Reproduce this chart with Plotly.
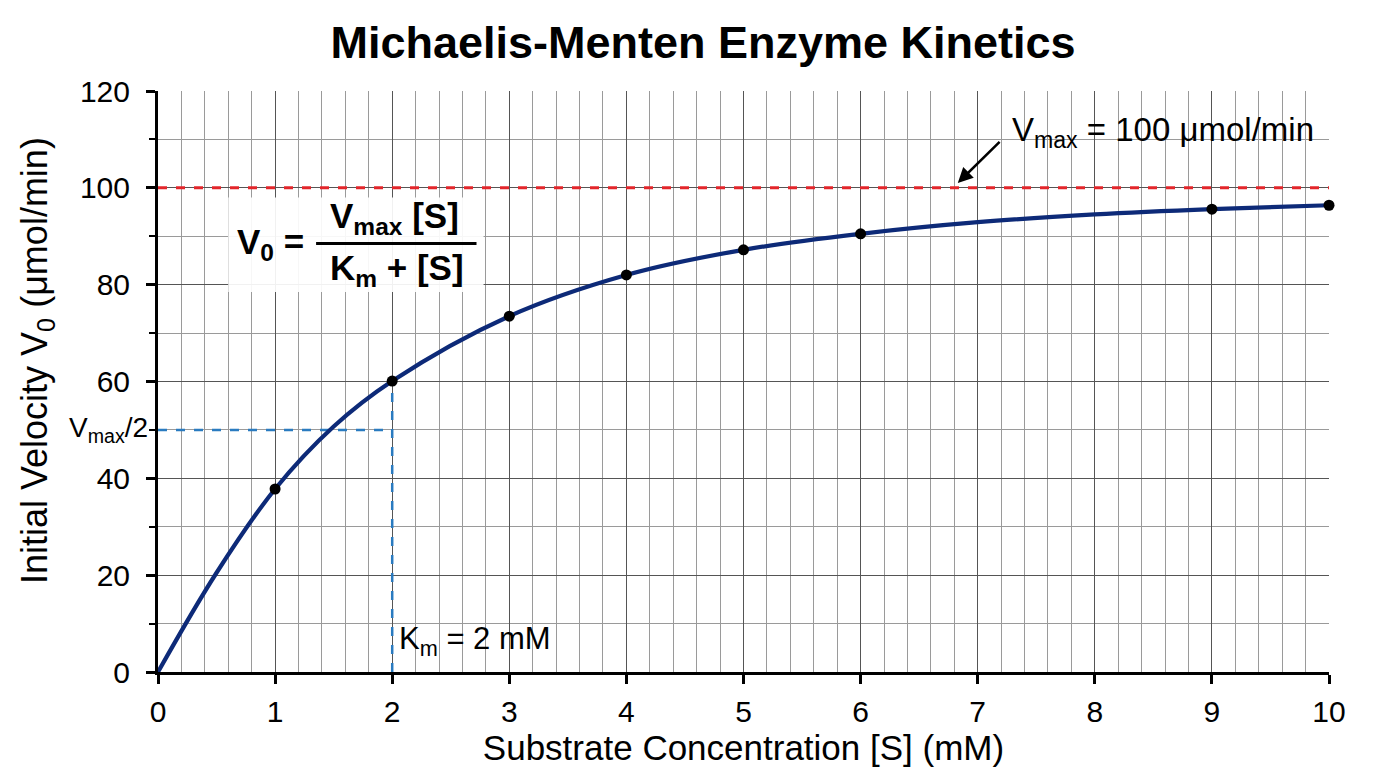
import plotly.graph_objects as go

# ---- data ----
S_points = [1, 2, 3, 4, 5, 6, 9, 10]
V_points = [37.8, 60.1, 73.5, 82.0, 87.2, 90.5, 95.6, 96.4]
S_curve = [0, 0.5, 1, 1.5, 2, 3, 4, 5, 6, 7, 8, 9, 10]
V_curve = [0, 20.5, 37.8, 50.7, 60.1, 73.5, 82.0, 87.2, 90.5, 92.9, 94.5, 95.6, 96.4]
VMAX = 100
HALF_VMAX = 50
KM = 2
X_RANGE = [0, 10]
Y_RANGE = [0, 120]

FONT = "Liberation Sans, Arial, sans-serif"

fig = go.Figure()

# reference lines
fig.add_trace(go.Scatter(x=X_RANGE, y=[VMAX, VMAX], mode="lines",
                         line=dict(color="#e3262b", width=3, dash="dash"),
                         hoverinfo="skip", showlegend=False))
fig.add_trace(go.Scatter(x=[0, KM], y=[HALF_VMAX, HALF_VMAX], mode="lines",
                         line=dict(color="#2a7bc0", width=2.5, dash="dash"),
                         hoverinfo="skip", showlegend=False))
fig.add_trace(go.Scatter(x=[KM, KM], y=[0, V_points[1]], mode="lines",
                         line=dict(color="#2a7bc0", width=2.5, dash="dash"),
                         hoverinfo="skip", showlegend=False))

# curve
fig.add_trace(go.Scatter(x=S_curve, y=V_curve, mode="lines",
                         line=dict(color="#0d2a78", width=4.2, shape="spline", smoothing=1.0),
                         showlegend=False))
# data points
fig.add_trace(go.Scatter(x=S_points, y=V_points, mode="markers",
                         marker=dict(color="black", size=11),
                         cliponaxis=False, showlegend=False))

# equation box
fig.add_shape(type="rect", xref="x", yref="y", x0=0.6, x1=2.78, y0=78.5, y1=98,
              fillcolor="rgba(255,255,255,0.92)", line=dict(width=0), layer="between")
fig.add_shape(type="line", xref="x", yref="y", x0=1.35, x1=2.72, y0=88.5, y1=88.5,
              line=dict(color="black", width=3))

eq_font = dict(family=FONT, size=35, color="black")
fig.add_annotation(x=0.96, y=88.5, xref="x", yref="y", text="<b>V<sub>0</sub> =</b>",
                   showarrow=False, font=eq_font, xanchor="center", yanchor="middle")
fig.add_annotation(x=2.02, y=93.7, xref="x", yref="y", text="<b>V<sub>max</sub> [S]</b>",
                   showarrow=False, font=eq_font, xanchor="center", yanchor="middle")
fig.add_annotation(x=2.04, y=83.0, xref="x", yref="y", text="<b>K<sub>m</sub> + [S]</b>",
                   showarrow=False, font=eq_font, xanchor="center", yanchor="middle")

# Vmax label and arrow
fig.add_annotation(x=7.28, y=111.5, xref="x", yref="y",
                   text="V<sub>max</sub> = 100 μmol/min", showarrow=False,
                   font=dict(family=FONT, size=33, color="black"),
                   xanchor="left", yanchor="middle")
fig.add_annotation(x=6.83, y=101.0, xref="x", yref="y", ax=7.2, ay=109.8,
                   axref="x", ayref="y", text="", showarrow=True,
                   arrowhead=2, arrowsize=1.2, arrowwidth=2.5, arrowcolor="black")

# Vmax/2 label
fig.add_annotation(x=0, y=HALF_VMAX, xref="paper", yref="y",
                   text="V<sub>max</sub>/2", showarrow=False, xanchor="right",
                   yanchor="middle", xshift=-8,
                   font=dict(family=FONT, size=28, color="black"))
# Km label
fig.add_annotation(x=KM, y=6.5, xref="x", yref="y",
                   text="K<sub>m</sub> = 2 mM", showarrow=False, xanchor="left",
                   yanchor="middle", xshift=5,
                   font=dict(family=FONT, size=31, color="black"))

# y-axis title (as rotated annotation for exact placement)
fig.add_annotation(x=(37 - 158) / 1171, y=(672 - 361) / 581, xref="paper", yref="paper",
                   text="Initial Velocity V<sub>0</sub> (μmol/min)", showarrow=False,
                   textangle=-90, xanchor="center", yanchor="middle",
                   font=dict(family=FONT, size=36, color="black"))

fig.update_layout(
    width=1376, height=768,
    margin=dict(l=158, r=47, t=91, b=96),
    paper_bgcolor="white", plot_bgcolor="white",
    font=dict(family=FONT, color="black"),
    title=dict(text="<b>Michaelis-Menten Enzyme Kinetics</b>",
               x=(703 - 158) / 1171, xref="paper", xanchor="center",
               y=0.945, yanchor="middle",
               font=dict(family=FONT, size=45, color="black")),
)

fig.update_xaxes(
    range=X_RANGE, dtick=1, tick0=0,
    showline=True, linewidth=3, linecolor="black",
    ticks="outside", ticklen=9, tickwidth=3, tickcolor="black",
    tickfont=dict(size=30), showgrid=True, gridcolor="#555555", gridwidth=1,
    minor=dict(dtick=0.2, showgrid=True, gridcolor="#9a9a9a", gridwidth=1),
    zeroline=False, ticklabelstandoff=2,
    title=dict(text="Substrate Concentration [S] (mM)", font=dict(size=35), standoff=4),
)
fig.update_yaxes(
    range=Y_RANGE, dtick=20, tick0=0,
    showline=True, linewidth=3, linecolor="black",
    ticks="outside", ticklen=9, tickwidth=3, tickcolor="black",
    tickfont=dict(size=30), showgrid=True, gridcolor="#555555", gridwidth=1,
    minor=dict(dtick=10, showgrid=True, gridcolor="#9a9a9a", gridwidth=1,
               ticks="outside", ticklen=6, tickwidth=2, tickcolor="black"),
    zeroline=False, ticklabelstandoff=10,
)

fig.write_html("out.html")
